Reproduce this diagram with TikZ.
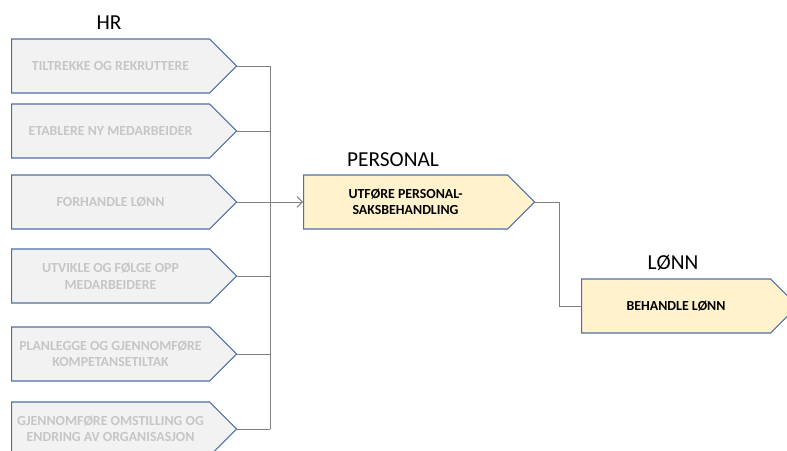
\documentclass[tikz,border=0pt]{standalone}
\usepackage{fontspec}
\setmainfont{Carlito}
\usetikzlibrary{shapes.symbols}
\usetikzlibrary{arrows.meta}
\definecolor{hrfill}{HTML}{F2F2F2}
\definecolor{hrtext}{HTML}{C6C6C6}
\definecolor{boxline}{HTML}{4F6FA8}
\definecolor{perfill}{HTML}{FFF2CC}
\definecolor{wire}{HTML}{808080}
\tikzstyle{step box}=[signal, signal to=east, signal pointer angle=90, draw=boxline, line width=.8pt, anchor=west, minimum height=40.5pt, inner sep=1pt, align=center, font=\fontsize{10.4}{12.5}\selectfont\bfseries]
\tikzstyle{hr box}=[step box, fill=hrfill, text=hrtext, minimum width=168.75pt]
\tikzstyle{per box}=[step box, fill=perfill, text=black]
\tikzstyle{wire}=[draw=wire, line width=.7pt]
\tikzstyle{head}=[font=\fontsize{16}{18}\selectfont]

\begin{document}
\begin{tikzpicture}[x=0.75pt, y=-0.75pt]
				\clip (0,0) rectangle (787,450);
				\node[head] (hr) at (109,23) {HR};
				\node[hr box] (h1) at (11,66) {TILTREKKE OG REKRUTTERE};
				\node[hr box] (h2) at (11,131) {ETABLERE NY MEDARBEIDER};
				\node[hr box] (h3) at (11,202) {FORHANDLE LØNN};
				\node[hr box] (h4) at (11,276) {UTVIKLE OG FØLGE OPP\\MEDARBEIDERE};
				\node[hr box] (h5) at (11,354) {PLANLEGGE OG GJENNOMFØRE\\KOMPETANSETILTAK};
				\node[hr box] (h6) at (11,429) {GJENNOMFØRE OMSTILLING OG\\ENDRING AV ORGANISASJON};

				\node[head] (perlabel) at (393,160) {PERSONAL};
				\node[per box, minimum width=173.25pt] (per) at (303,202) {UTFØRE PERSONAL-\\SAKSBEHANDLING};
				\node[head] (lonnlabel) at (673,263) {LØNN};
				\node[per box, minimum width=162pt] (lonn) at (581,306) {BEHANDLE LØNN};

				\coordinate (bus top) at (270,66);
				\coordinate (bus bot) at (270,429);
				\draw[wire] (bus top) -- (bus bot);
				\foreach \i in {1,...,6} {
					\draw[wire] (h\i.east) -- (h\i.east -| bus top);
				}
				\draw[wire, -{Straight Barb[length=4pt]}] (h3.east) -- (per.west);
				\draw[wire] (per.east) -- ++(24,0) |- (lonn.west);
			\end{tikzpicture}
\end{document}
